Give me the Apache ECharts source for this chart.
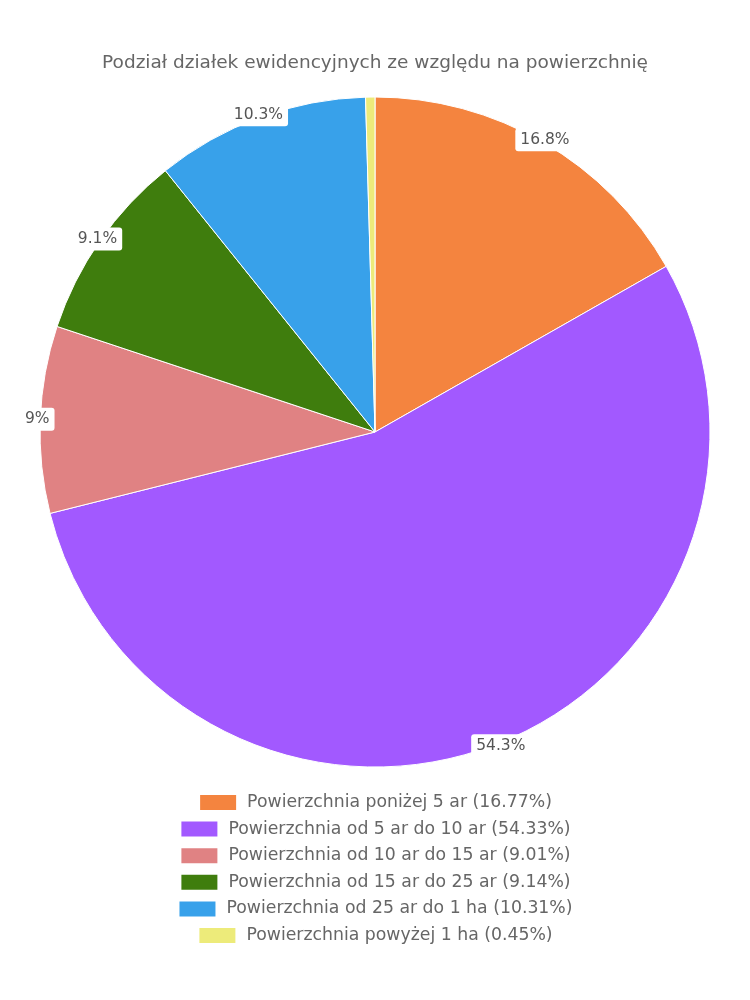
<!DOCTYPE html>
<html><head><meta charset="utf-8">
<script src="https://cdn.jsdelivr.net/npm/echarts@6/dist/echarts.min.js"></script>
<style>html,body{margin:0;padding:0;background:#fff}#c{width:750px;height:1000px}</style>
</head><body><div id="c"></div>
<script>
const categories = ["Powierzchnia poniżej 5 ar","Powierzchnia od 5 ar do 10 ar","Powierzchnia od 10 ar do 15 ar","Powierzchnia od 15 ar do 25 ar","Powierzchnia od 25 ar do 1 ha","Powierzchnia powyżej 1 ha"];
const values = [16.77, 54.33, 9.01, 9.14, 10.31, 0.45];
const colors = ["#F4843F","#A259FF","#E08283","#3F7D0D","#38A1EA","#EDEB7A"];
const titleText = "Podział działek ewidencyjnych ze względu na powierzchnię";

const FONT = "DejaVu Sans";
const data = categories.map((n,i)=>({name:n,value:values[i],itemStyle:{color:colors[i]}}));
const legends = categories.map((n,i)=>({
  data:[n], left:'center', top:788 + i*26.6, orient:'horizontal',
  itemWidth:38, itemHeight:17, itemGap:10, icon:'rect',
  textStyle:{fontFamily:FONT,fontSize:17.3,color:'#666',padding:[0,0,0,5]},
  formatter:(name)=>name+' ('+values[categories.indexOf(name)]+'%)',
  selectedMode:false
}));
const chart = echarts.init(document.getElementById('c'));
chart.setOption({
  animation:false,
  title:{text:titleText,left:'center',top:49,textStyle:{fontFamily:FONT,fontSize:18.5,fontWeight:'normal',color:'#666'}},
  legend:legends,
  series:[
    {type:'pie',center:[375,432],radius:[0,335],startAngle:90,clockwise:true,
     data:data,label:{show:false},labelLine:{show:false},
     itemStyle:{borderColor:'#fff',borderWidth:1},silent:true},
    {type:'pie',center:[375,432],radius:[335,335],startAngle:90,clockwise:true,
     data:data.map(d=>({name:d.name,value:d.value,itemStyle:{color:'transparent'}})),
     minShowLabelAngle:3,silent:true,legendHoverLink:false,
     label:{show:true,position:'inside',
       formatter:(p)=>parseFloat(p.value.toFixed(1))+'%',
       fontFamily:FONT,fontSize:15.5,color:'#555',backgroundColor:'#fff',
       borderRadius:3,padding:[4,5,3,5]},
     labelLine:{show:false},itemStyle:{borderWidth:0}}
  ]
});
</script></body></html>
